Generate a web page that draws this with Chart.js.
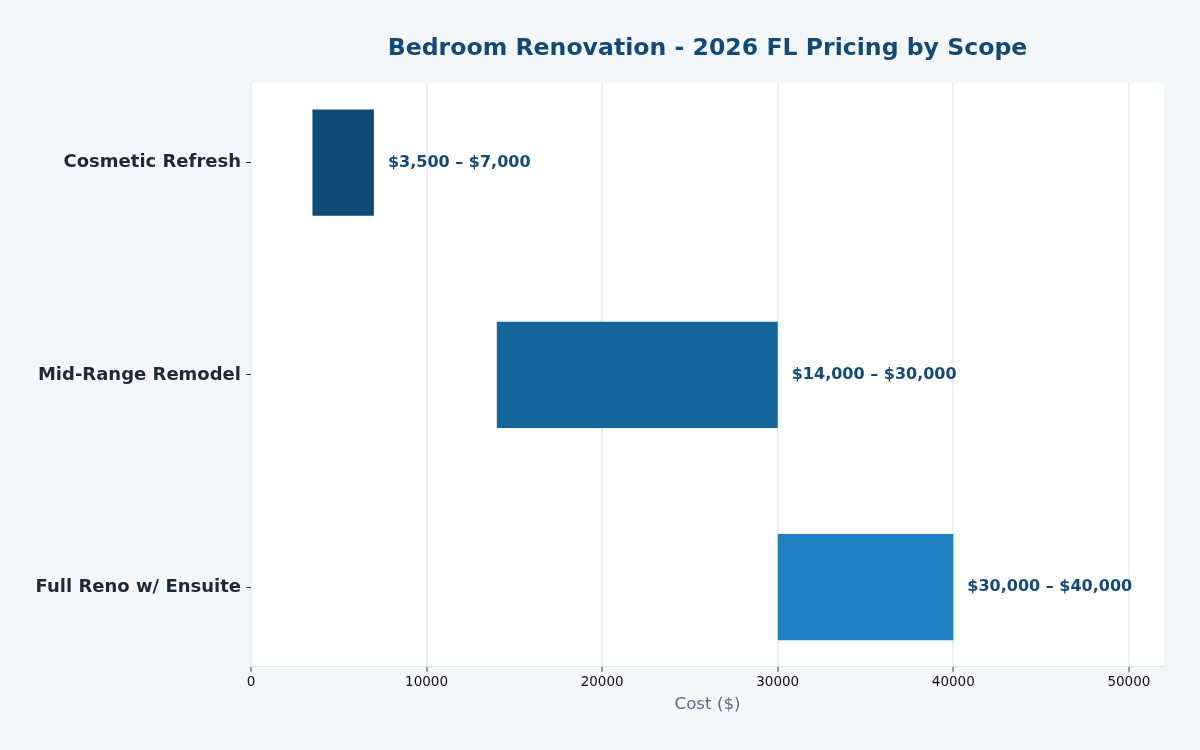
<!DOCTYPE html>
<html>
<head>
<meta charset="utf-8">
<script src="https://cdn.jsdelivr.net/npm/chart.js@4.4.1/dist/chart.umd.min.js"></script>
<style>
  html, body { margin: 0; padding: 0; background: #f4f7fa; }
  canvas { display: block; }
</style>
</head>
<body>
<canvas id="scopeChart" width="1200" height="750"></canvas>
<script>
const scopes = ['Cosmetic Refresh', 'Mid-Range Remodel', 'Full Reno w/ Ensuite'];
const lowCost = [3500, 14000, 30000];
const highCost = [7000, 30000, 40000];
const xTicks = [0, 10000, 20000, 30000, 40000, 50000];
const barColors = ['#0f4a75', '#16659b', '#1f7fc1'];

const FONT = "'DejaVu Sans', sans-serif";
const TITLE = 'Bedroom Renovation - 2026 FL Pricing by Scope';

function money(v) {
  return '$' + v.toLocaleString('en-US');
}

// background, white plot panel, title
const panelPlugin = {
  id: 'panel',
  beforeDraw(chart) {
    const { ctx, chartArea } = chart;
    ctx.save();
    ctx.fillStyle = '#f4f7fa';
    ctx.fillRect(0, 0, chart.width, chart.height);
    ctx.fillStyle = '#ffffff';
    ctx.fillRect(chartArea.left, chartArea.top, chartArea.right - chartArea.left, chartArea.bottom - chartArea.top);
    ctx.restore();
  },
  afterDraw(chart) {
    const { ctx, chartArea } = chart;
    ctx.save();
    ctx.font = "bold 23.6px " + FONT;
    ctx.fillStyle = '#134a75';
    ctx.textAlign = 'center';
    ctx.textBaseline = 'middle';
    ctx.fillText(TITLE, (chartArea.left + chartArea.right) / 2, 48.5);
    ctx.restore();
  }
};

// range labels to the right of each bar
const rangeLabels = {
  id: 'rangeLabels',
  afterDatasetsDraw(chart) {
    const { ctx } = chart;
    const meta = chart.getDatasetMeta(0);
    ctx.save();
    ctx.font = "bold 16px " + FONT;
    ctx.fillStyle = '#134a75';
    ctx.textAlign = 'left';
    ctx.textBaseline = 'middle';
    meta.data.forEach((bar, i) => {
      ctx.fillText(money(lowCost[i]) + ' \u2013 ' + money(highCost[i]), bar.x + 14, bar.y);
    });
    ctx.restore();
  }
};

const ctx = document.getElementById('scopeChart').getContext('2d');

new Chart(ctx, {
  type: 'bar',
  data: {
    datasets: [{
      data: scopes.map((s, i) => ({ x: [lowCost[i], highCost[i]], y: i })),
      backgroundColor: barColors,
      borderWidth: 0,
      barPercentage: 0.5,
      categoryPercentage: 1
    }]
  },
  options: {
    indexAxis: 'y',
    responsive: false,
    animation: false,
    layout: { padding: { top: 83, right: 36, bottom: 35, left: 0 } },
    plugins: {
      legend: { display: false },
      tooltip: { enabled: false }
    },
    scales: {
      x: {
        type: 'linear',
        min: 0,
        max: 52000,
        afterBuildTicks: scale => { scale.ticks = xTicks.map(v => ({ value: v })); },
        ticks: {
          color: '#111',
          font: { family: FONT, size: 13.5 },
          padding: 3,
          maxRotation: 0,
          callback: v => String(v)
        },
        grid: {
          color: '#ebf0f4',
          lineWidth: 2,
          tickColor: '#333',
          tickWidth: 1,
          tickLength: 5
        },
        border: { display: true, color: '#dfe5ea', width: 1 },
        title: {
          display: true,
          text: 'Cost ($)',
          color: '#5b6b7c',
          font: { family: FONT, size: 16.7 },
          padding: { top: 1, bottom: 0 }
        }
      },
      y: {
        type: 'linear',
        min: -0.375,
        max: 2.375,
        reverse: true,
        offset: false,
        afterBuildTicks: scale => { scale.ticks = scopes.map((s, i) => ({ value: i })); },
        afterFit: scale => { scale.width = 251; },
        ticks: {
          color: '#1f2933',
          font: { family: FONT, size: 18, weight: 'bold' },
          padding: 5,
          callback: v => scopes[v]
        },
        grid: {
          display: true,
          offset: false,
          drawOnChartArea: false,
          tickColor: '#333',
          tickWidth: 1,
          tickLength: 5
        },
        border: { display: false }
      }
    }
  },
  plugins: [panelPlugin, rangeLabels]
});
</script>
</body>
</html>
